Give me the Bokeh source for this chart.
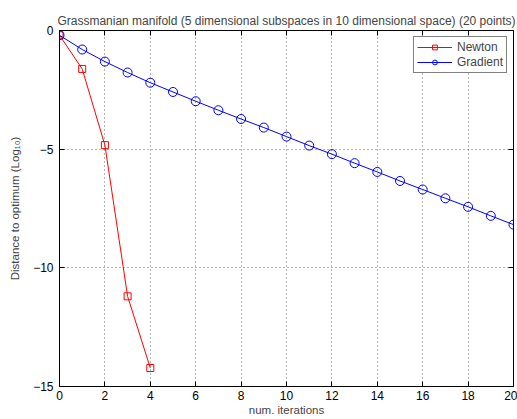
from bokeh.plotting import figure
from bokeh.models import LinearAxis, FixedTicker, Range1d, Legend, LegendItem
from bokeh.embed import file_html
from bokeh.resources import INLINE

# data
newton_x = [0, 1, 2, 3, 4]
newton_y = [-0.20, -1.62, -4.83, -11.20, -14.22]
grad_x = list(range(0, 21))
grad_y = [-0.20, -0.80, -1.31, -1.77, -2.20, -2.59, -2.98, -3.36, -3.73, -4.09,
          -4.47, -4.85, -5.21, -5.59, -5.96, -6.34, -6.70, -7.07, -7.43, -7.81, -8.18]
x_ticks = [0, 2, 4, 6, 8, 10, 12, 14, 16, 18, 20]
y_ticks = [0, -5, -10, -15]
title_text = "Grassmanian manifold (5 dimensional subspaces in 10 dimensional space) (20 points)"
xlabel = "num. iterations"
ylabel = "Distance to optimum (Log\u2081\u2080)"

FONT = "Liberation Sans"

p = figure(width=517, height=419, output_backend="svg", toolbar_location=None,
           x_range=Range1d(0, 20), y_range=Range1d(-15, 0),
           min_border_left=59, min_border_right=4, min_border_top=30, min_border_bottom=33,
           title=title_text)
p.title.text_font = FONT
p.title.text_font_size = "12px"
p.title.text_font_style = "normal"
p.title.align = "center"
p.title.offset = 0
p.title.standoff = 5

p.outline_line_color = "black"
p.outline_line_width = 1
p.background_fill_color = "white"
p.border_fill_color = "white"

for ax in (p.xaxis[0], p.yaxis[0]):
    ax.major_tick_in = 5
    ax.major_tick_out = 0
    ax.minor_tick_in = 0
    ax.minor_tick_out = 0
    ax.axis_line_color = "black"
    ax.major_tick_line_color = "black"
    ax.major_label_text_font = FONT
    ax.major_label_text_font_size = "12px"
    ax.major_label_text_color = "black"
    ax.axis_label_text_font = FONT
    ax.axis_label_text_font_size = "11.5px"
    ax.axis_label_text_font_style = "normal"

p.xaxis[0].ticker = FixedTicker(ticks=x_ticks)
p.yaxis[0].ticker = FixedTicker(ticks=y_ticks)
p.xaxis[0].axis_label = xlabel
p.yaxis[0].axis_label = ylabel
p.xaxis[0].major_label_standoff = 4
p.xaxis[0].axis_label_standoff = 1
p.yaxis[0].major_label_standoff = 6
p.yaxis[0].axis_label_standoff = 9

# mirrored axes (box ticks), no labels
top = LinearAxis(ticker=FixedTicker(ticks=x_ticks), major_tick_in=5, major_tick_out=0,
                 minor_tick_in=0, minor_tick_out=0, major_label_standoff=0,
                 major_label_overrides={t: "" for t in x_ticks}, axis_line_color="black")
right = LinearAxis(ticker=FixedTicker(ticks=y_ticks), major_tick_in=5, major_tick_out=0,
                   minor_tick_in=0, minor_tick_out=0, major_label_standoff=0,
                   major_label_overrides={t: "" for t in y_ticks}, axis_line_color="black")
p.add_layout(top, "above")
p.add_layout(right, "right")

p.xgrid.ticker = FixedTicker(ticks=x_ticks)
p.ygrid.ticker = FixedTicker(ticks=y_ticks)
for g in (p.xgrid[0], p.ygrid[0]):
    g.grid_line_color = "#444444"
    g.grid_line_dash = "1 3"
    g.grid_line_width = 1
    g.grid_line_alpha = 0.8

rn1 = p.line(newton_x, newton_y, line_color="#ff0000", line_width=1)
rn2 = p.scatter(newton_x, newton_y, marker="square", size=7, line_color="#ff0000",
                fill_color=None, line_width=1)
rg1 = p.line(grad_x, grad_y, line_color="#0000ff", line_width=1)
rg2 = p.scatter(grad_x, grad_y, marker="circle", size=9, line_color="#0000ff",
                fill_color=None, line_width=1)

legend = Legend(items=[LegendItem(label="Newton", renderers=[rn1, rn2]),
                       LegendItem(label="Gradient", renderers=[rg1, rg2])],
                location="top_right")
legend.border_line_color = "black"
legend.border_line_width = 1
legend.background_fill_color = "white"
legend.background_fill_alpha = 1
legend.label_text_font = FONT
legend.label_text_font_size = "12px"
legend.glyph_width = 35
legend.glyph_height = 12
legend.label_height = 12
legend.label_standoff = 5
legend.padding = 3
legend.spacing = 1
legend.margin = 6
p.add_layout(legend)

open("out.html", "w").write(file_html(p, INLINE))
